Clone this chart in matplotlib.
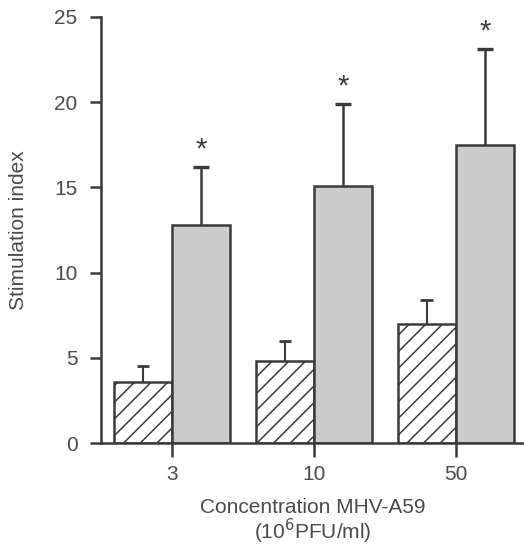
import matplotlib.pyplot as plt
import numpy as np

plt.rcParams['font.family'] = ['Liberation Sans', 'DejaVu Sans']
plt.rcParams['hatch.linewidth'] = 1.1

concentrations = ['3', '10', '50']
control_mean = [3.6, 4.8, 7.0]
control_err = [0.9, 1.2, 1.4]
infected_mean = [12.8, 15.1, 17.5]
infected_err = [3.4, 4.8, 5.6]
significant = [True, True, True]

ink = '#3a3a3a'
txt = '#4a4a4a'

fig = plt.figure(figsize=(5.24, 5.47), dpi=100)
ax = fig.add_axes([0.193, 0.19, 0.807, 0.779])

x = np.arange(len(concentrations))
w = 0.41

ax.bar(x - w / 2, control_mean, w, color='white', edgecolor=ink,
       linewidth=1.8, hatch='//', zorder=2)
ax.bar(x + w / 2, infected_mean, w, color='#cbcbcb', edgecolor=ink,
       linewidth=1.8, zorder=2)

# upward-only error bars
cx = x - w / 2
gx = x + w / 2
c_top = np.array(control_mean) + np.array(control_err)
g_top = np.array(infected_mean) + np.array(infected_err)
ax.vlines(cx, control_mean, c_top, color=ink, lw=1.5, zorder=1)
ax.hlines(c_top, cx - 0.045, cx + 0.045, color=ink, lw=2, zorder=1)
ax.vlines(gx, infected_mean, g_top, color=ink, lw=1.8, zorder=1)
ax.hlines(g_top, gx - 0.055, gx + 0.055, color=ink, lw=2.4, zorder=1)

for xi, top, s in zip(gx, g_top, significant):
    if s:
        ax.text(xi, top + 0.2, '*', ha='center', va='bottom',
                fontsize=21, color=ink)

ax.set_xlim(-0.5, 2.48)
ax.set_ylim(0, 25)
ax.set_yticks([0, 5, 10, 15, 20, 25])
ax.set_xticks(x)
ax.set_xticklabels(concentrations)

for side in ['top', 'right']:
    ax.spines[side].set_visible(False)
for side in ['left', 'bottom']:
    ax.spines[side].set_linewidth(1.8)
    ax.spines[side].set_color(ink)

ax.tick_params(axis='y', length=8, width=1.8, color=ink, labelsize=15,
               labelcolor=txt, pad=9)
ax.tick_params(axis='x', length=10, width=1.8, color=ink, labelsize=15,
               labelcolor=txt, pad=6)

ax.set_ylabel('Stimulation index', fontsize=15, color=txt, labelpad=19)
ax.set_xlabel('Concentration MHV-A59\n(10$^6$PFU/ml)', fontsize=15,
              color=txt, labelpad=10, linespacing=1.0)

fig.savefig('out.png', dpi=100)
